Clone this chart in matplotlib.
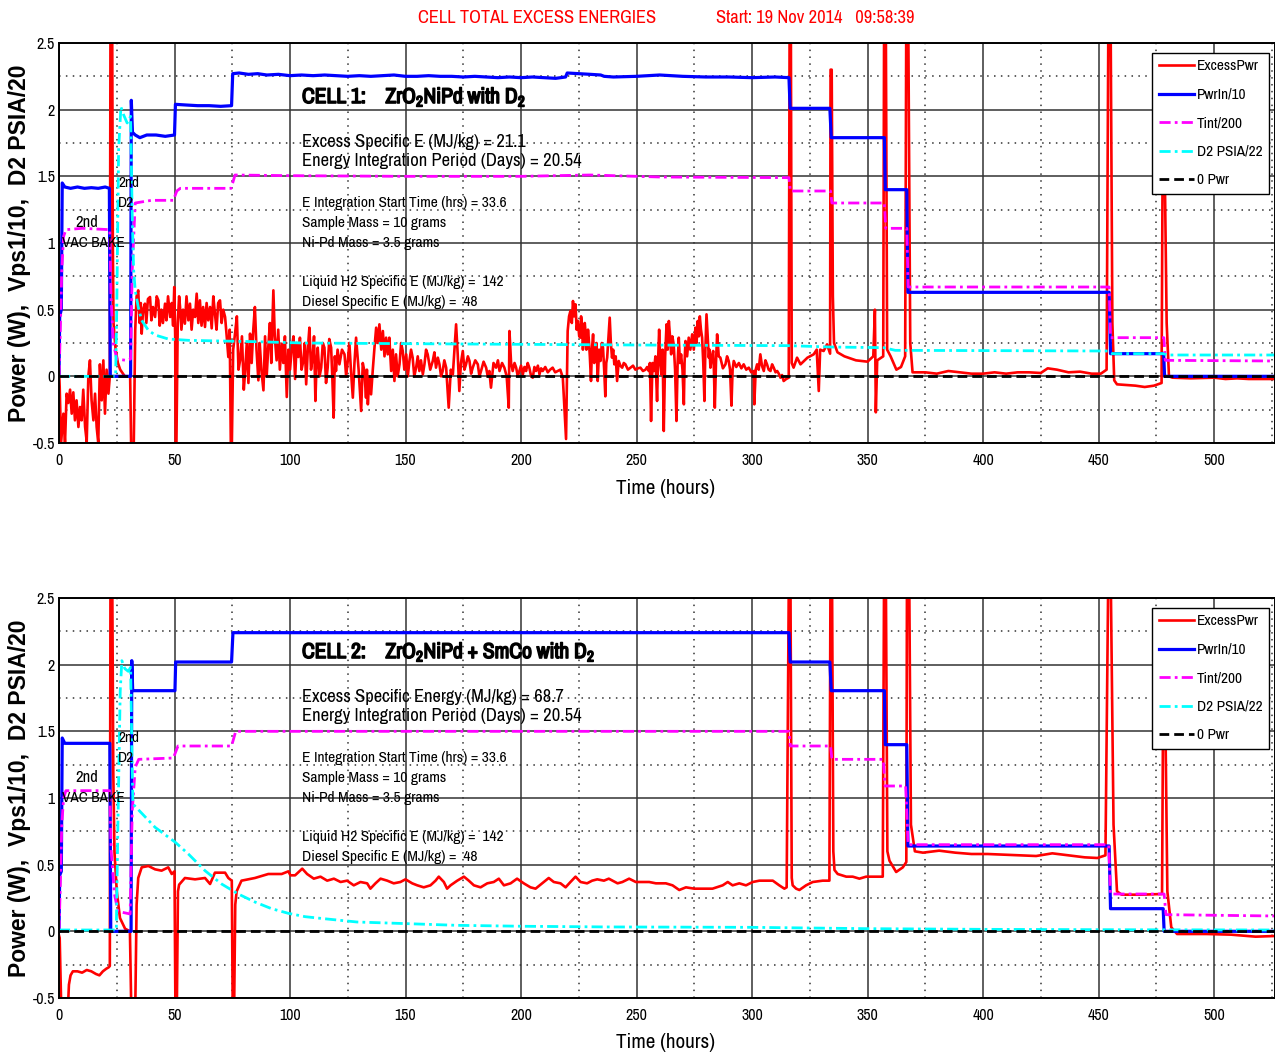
import matplotlib
matplotlib.use("Agg")
import matplotlib.pyplot as plt
import matplotlib.patheffects as pe
from matplotlib.ticker import MultipleLocator

NARROW = ['Archivo Narrow', 'Liberation Sans Narrow', 'DejaVu Sans']
plt.rcParams['font.family'] = NARROW
plt.rcParams['mathtext.fontset'] = 'custom'
plt.rcParams['mathtext.rm'] = 'Archivo Narrow'
plt.rcParams['mathtext.bf'] = 'Archivo Narrow:bold'
plt.rcParams['mathtext.it'] = 'Archivo Narrow:italic'

# ---------------- data (hours, value) ----------------
# CELL 1
c1_excess = [
    (0.0, 0.05), (0.3, -0.08), (0.9, -0.5), (1.9, -0.28), (2.6, -0.5), (3.3, -0.13),
    (4.0, -0.2), (4.8, -0.1), (5.5, -0.28), (6.2, -0.12), (6.9, -0.33), (7.6, -0.18),
    (8.4, -0.38), (9.1, -0.23), (9.8, -0.33), (10.5, -0.1), (11.3, -0.38), (12.0, -0.49),
    (12.7, 0.0), (13.4, 0.12), (14.1, -0.18), (14.9, -0.33), (15.6, -0.13), (16.3, -0.38),
    (17.0, -0.5), (17.7, 0.09), (18.5, -0.18), (19.2, 0.12), (19.9, -0.28), (20.6, 0.05),
    (21.4, -0.13), (22.0, 0.0), (22.3, 2.8), (23.0, 2.8), (23.3, 1.0), (23.6, 0.4),
    (24.5, 0.2), (25.5, 0.1), (26.5, 0.05), (28.5, 0.0), (30.8, 0.0), (31.3, -0.6),
    (32.3, -0.6), (33.0, 0.35), (33.6, 0.6), (34.3, 0.645), (34.9, 0.4), (35.4, 0.55),
    (35.8, 0.32), (36.4, 0.5), (37.2, 0.545), (37.8, 0.4), (38.5, 0.58), (39.4, 0.595),
    (40.0, 0.42), (40.7, 0.52), (41.6, 0.445), (42.3, 0.6), (43.0, 0.57), (43.6, 0.38),
    (44.3, 0.5), (45.0, 0.4), (45.9, 0.545), (46.5, 0.42), (47.2, 0.6), (48.1, 0.445),
    (48.8, 0.55), (49.4, 0.38), (49.9, 0.67), (50.3, 0.3), (50.5, -0.55), (50.8, -0.55),
    (51.4, 0.4), (52.0, 0.6), (52.4, 0.52), (53.0, 0.35), (53.7, 0.5), (54.5, 0.395),
    (55.2, 0.6), (56.0, 0.42), (56.7, 0.545), (57.4, 0.35), (58.1, 0.5), (58.9, 0.445),
    (59.6, 0.62), (60.3, 0.4), (61.0, 0.57), (61.7, 0.38), (62.4, 0.52), (63.2, 0.37),
    (63.9, 0.55), (64.6, 0.42), (65.4, 0.52), (66.1, 0.36), (66.8, 0.6), (67.5, 0.47),
    (68.2, 0.35), (68.9, 0.55), (69.7, 0.57), (70.4, 0.4), (71.1, 0.5), (71.9, 0.445),
    (72.6, 0.3), (73.3, 0.145), (73.9, 0.35), (74.4, -0.55), (74.8, -0.55), (75.4, 0.2),
    (76.2, 0.32), (77.0, 0.45), (77.7, 0.05), (78.4, 0.12), (79.2, 0.3), (80.0, -0.1),
    (80.5, 0.02), (81.3, 0.25), (82.0, -0.05), (82.7, 0.32), (83.4, 0.1), (84.1, 0.35),
    (84.8, 0.52), (85.5, 0.2), (86.3, -0.03), (86.9, 0.25), (87.6, 0.05), (88.5, -0.105),
    (89.2, 0.3), (89.9, 0.0), (90.6, 0.22), (91.3, 0.4), (91.9, 0.1), (92.8, 0.645),
    (93.4, 0.3), (94.2, 0.12), (94.9, 0.35), (95.6, 0.05), (96.4, 0.245), (97.1, 0.1),
    (97.8, 0.3), (98.6, -0.155), (99.3, 0.2), (100.0, 0.05), (100.7, 0.195), (101.5, 0.3),
    (102.2, -0.02), (102.9, 0.25), (103.6, 0.145), (104.3, 0.29), (105.0, 0.05), (105.8, 0.12),
    (106.4, 0.25), (107.0, -0.06), (107.7, 0.2), (108.4, 0.365), (109.1, 0.05), (109.8, 0.14),
    (110.4, 0.3), (111.0, -0.185), (111.5, 0.1), (112.0, 0.215), (112.8, 0.0), (113.5, 0.065),
    (114.2, 0.25), (114.9, 0.215), (115.6, -0.05), (116.3, 0.065), (117.0, 0.28), (117.8, 0.215),
    (118.3, 0.0), (118.9, -0.31), (119.4, 0.15), (119.9, 0.04), (120.6, 0.2), (121.4, 0.09),
    (122.5, 0.2), (123.6, 0.165), (124.3, 0.0), (125.0, 0.115), (125.7, 0.25), (126.4, 0.04),
    (127.2, -0.16), (127.9, 0.1), (128.6, 0.29), (129.7, 0.05), (130.8, -0.26), (131.5, 0.1),
    (132.2, 0.04), (132.9, -0.16), (133.3, 0.05), (133.7, -0.21), (134.4, 0.0), (135.1, -0.135),
    (135.8, 0.04), (136.5, 0.2), (137.3, 0.365), (138.0, 0.25), (138.7, 0.39), (139.5, 0.2),
    (140.2, 0.34), (140.9, 0.15), (141.6, 0.29), (142.3, 0.165), (143.0, 0.29), (143.8, 0.04),
    (144.5, 0.2), (145.2, -0.035), (145.9, 0.165), (146.6, 0.0), (147.4, 0.09), (148.1, 0.25),
    (148.8, 0.19), (149.5, 0.05), (150.3, 0.165), (151.0, 0.0), (151.7, 0.115), (152.4, 0.2),
    (153.1, 0.14), (153.8, 0.0), (154.6, 0.065), (155.3, 0.15), (156.0, 0.04), (156.7, 0.12),
    (157.5, 0.015), (158.2, 0.09), (158.9, 0.2), (159.6, 0.165), (160.7, 0.05), (161.8, 0.115),
    (162.5, 0.18), (163.2, 0.065), (164.0, 0.14), (164.7, 0.09), (165.4, 0.0), (166.1, 0.04),
    (166.8, 0.12), (167.6, 0.065), (168.7, -0.235), (169.6, 0.05), (170.5, 0.015), (171.2, 0.2),
    (171.9, 0.39), (172.6, 0.165), (173.3, -0.11), (174.0, 0.1), (174.8, 0.19), (175.5, 0.05),
    (176.2, 0.09), (177.0, 0.15), (177.7, 0.115), (178.4, 0.02), (179.1, 0.065), (180.2, 0.12),
    (181.3, 0.09), (182.0, 0.0), (182.7, 0.04), (183.8, 0.11), (184.9, 0.065), (185.6, 0.0),
    (186.3, 0.04), (187.0, -0.085), (188.1, 0.1), (189.2, 0.065), (190.0, 0.12), (190.7, 0.04),
    (191.8, 0.1), (192.8, 0.065), (193.8, 0.0), (194.7, -0.235), (195.0, 0.34), (195.7, 0.1),
    (196.4, 0.04), (197.2, 0.1), (197.9, 0.065), (198.6, 0.0), (199.3, 0.04), (200.0, 0.08),
    (200.8, 0.015), (201.5, 0.07), (202.2, 0.04), (202.9, 0.1), (203.6, 0.065), (204.4, 0.0),
    (205.1, -0.01), (205.8, 0.07), (206.5, 0.04), (207.3, 0.08), (208.0, 0.015), (208.7, 0.06),
    (209.4, 0.04), (210.5, 0.07), (211.6, 0.03), (212.6, 0.05), (213.7, 0.065), (214.8, 0.03),
    (215.9, 0.04), (217.0, 0.05), (218.1, -0.01), (219.5, -0.47), (220.2, 0.34), (220.8, 0.45),
    (221.4, 0.49), (222.0, 0.4), (222.5, 0.565), (223.0, 0.45), (223.6, 0.54), (224.1, 0.35),
    (224.6, 0.415), (225.2, 0.3), (225.7, 0.29), (226.0, 0.45), (226.4, 0.39), (226.8, 0.2),
    (227.2, 0.29), (227.6, 0.4), (227.9, 0.34), (228.3, 0.2), (228.6, 0.215), (229.0, 0.35),
    (229.3, 0.29), (229.8, 0.15), (230.3, -0.035), (230.7, 0.2), (231.2, 0.315), (231.7, 0.1),
    (232.2, 0.165), (232.7, 0.25), (233.2, -0.035), (233.8, 0.2), (234.4, 0.115), (235.0, 0.25),
    (235.5, 0.215), (236.0, 0.05), (236.5, -0.15), (236.9, 0.1), (237.3, 0.14), (237.9, 0.3),
    (238.4, 0.44), (238.9, 0.25), (239.4, 0.14), (239.9, 0.2), (240.4, 0.09), (241.0, 0.15),
    (241.6, -0.035), (242.3, 0.115), (243.0, 0.08), (243.8, 0.065), (244.5, 0.1), (245.2, 0.09),
    (246.3, 0.05), (247.4, 0.065), (248.5, 0.08), (249.5, 0.05), (250.6, 0.06), (251.7, 0.065),
    (252.8, 0.04), (253.9, 0.05), (254.6, 0.07), (255.3, 0.04), (255.8, 0.1), (256.3, -0.335),
    (256.9, 0.1), (257.5, 0.04), (258.2, 0.15), (258.9, -0.185), (259.3, 0.1), (259.8, 0.35),
    (260.3, 0.1), (260.8, 0.015), (261.3, 0.2), (261.8, -0.41), (262.4, 0.15), (263.0, 0.39),
    (263.5, 0.2), (264.0, 0.415), (264.5, 0.3), (265.0, 0.165), (265.5, 0.3), (266.1, 0.24),
    (266.7, 0.05), (267.3, -0.335), (267.8, 0.1), (268.3, 0.29), (268.8, 0.1), (269.3, 0.165),
    (269.9, 0.05), (270.5, -0.21), (270.8, 0.1), (271.2, 0.265), (271.9, 0.15), (272.6, 0.29),
    (273.3, 0.2), (274.1, 0.315), (274.8, 0.2), (275.5, 0.365), (276.0, 0.25), (276.5, 0.415),
    (277.0, 0.3), (277.4, 0.45), (277.9, 0.35), (278.4, 0.29), (278.9, 0.1), (279.4, -0.185),
    (279.8, 0.2), (280.3, 0.465), (280.8, 0.3), (281.3, 0.14), (281.6, 0.2), (282.0, 0.065),
    (282.6, 0.15), (283.2, 0.19), (283.5, 0.05), (283.9, -0.235), (284.4, 0.1), (284.9, 0.315),
    (285.6, 0.15), (286.3, 0.14), (287.4, 0.06), (288.5, 0.09), (289.2, 0.15), (289.9, 0.115),
    (290.5, 0.05), (291.1, -0.22), (291.6, 0.05), (292.1, 0.115), (293.2, 0.07), (294.3, 0.1),
    (295.4, 0.06), (296.4, 0.09), (297.5, 0.05), (298.6, 0.065), (299.7, 0.03), (300.8, 0.04),
    (301.0, -0.21), (301.6, 0.05), (302.2, 0.09), (302.9, 0.05), (303.6, 0.165), (304.3, 0.08),
    (305.1, 0.04), (305.8, 0.12), (306.5, 0.09), (307.2, 0.05), (308.0, 0.04), (308.7, 0.09),
    (309.4, 0.065), (310.2, 0.03), (310.9, 0.04), (311.6, 0.02), (312.3, -0.01), (313.0, 0.01),
    (313.7, -0.035), (314.8, -0.02), (315.9, -0.01), (316.3, 2.8), (316.8, 2.8),
    (317.2, 0.1), (318.0, 0.065), (319.5, 0.14), (321.0, 0.09), (324.0, 0.14), (326.7, 0.165),
    (328.0, 0.2), (328.9, -0.11), (329.5, 0.2), (331.0, 0.19), (332.5, 0.24), (333.8, 0.17),
    (334.0, 2.3), (334.5, 2.3), (335.0, 0.6), (335.5, 0.25), (337.0, 0.18), (340.0, 0.15),
    (345.0, 0.12), (350.0, 0.11), (352.5, 0.15), (353.2, 0.5), (353.6, -0.27), (354.2, 0.12),
    (356.8, 0.15), (357.2, 2.8), (357.9, 2.8), (358.5, 0.2), (360.0, 0.15), (362.5, 0.05),
    (364.5, 0.07), (366.3, 0.15), (366.8, 2.8), (367.6, 2.8), (368.5, 0.25), (369.5, 0.03),
    (375.0, 0.03), (380.0, 0.02), (385.0, 0.04), (390.0, 0.03), (395.0, 0.02), (400.0, 0.02),
    (405.0, 0.03), (410.0, 0.02), (415.0, 0.03), (420.0, 0.03), (425.0, 0.025), (428.0, 0.06),
    (432.0, 0.05), (437.0, 0.03), (442.0, 0.035), (447.0, 0.02), (451.0, 0.02), (453.5, 0.05),
    (454.3, 2.8), (455.2, 2.8), (456.0, 0.4), (456.8, -0.03), (458.0, -0.06), (462.0, -0.065),
    (466.0, -0.07), (470.0, -0.08), (474.0, -0.07), (477.3, -0.05), (477.8, 1.8), (478.5, 1.8),
    (479.5, 0.4), (480.5, 0.0), (482.0, -0.01), (490.0, -0.015), (500.0, -0.01), (505.0, -0.02),
    (510.0, -0.015), (515.0, -0.02), (520.0, -0.02), (526.5, -0.02),
]

c1_pwrin = [
    (0.0, 0.0), (0.3, 0.45), (1.0, 0.5), (1.4, 1.45), (2.5, 1.42), (5, 1.41), (8, 1.42),
    (11, 1.41), (14, 1.415), (17, 1.41), (20, 1.42), (21.8, 1.41), (22.2, 0.0), (31.0, 0.0),
    (31.3, 2.07), (31.8, 1.83), (33, 1.81), (35, 1.79), (38, 1.81), (42, 1.81), (46, 1.8),
    (50.0, 1.81), (50.4, 2.04), (55, 2.035), (60, 2.03), (65, 2.03), (70, 2.025), (74.7, 2.03),
    (75.2, 2.27), (78, 2.275), (82, 2.265), (86, 2.27), (90, 2.26), (95, 2.265), (100, 2.255),
    (105, 2.26), (110, 2.255), (115, 2.26), (120, 2.255), (125, 2.25), (130, 2.255), (135, 2.25),
    (140, 2.255), (145, 2.26), (150, 2.25), (155, 2.25), (160, 2.255), (165, 2.25), (170, 2.25),
    (175, 2.245), (180, 2.25), (185, 2.245), (190, 2.24), (195, 2.245), (200, 2.24), (205, 2.245),
    (210, 2.24), (215, 2.235), (219.3, 2.245), (220, 2.275), (225, 2.27), (230, 2.265),
    (234.5, 2.26), (236, 2.25), (240, 2.245), (250, 2.25), (255, 2.255), (260, 2.26),
    (265, 2.255), (270, 2.25), (280, 2.245), (290, 2.245), (300, 2.24), (310, 2.245),
    (316.0, 2.24), (316.5, 2.01), (325, 2.01), (333.7, 2.01), (334.3, 1.79), (345, 1.79),
    (357.3, 1.79), (357.7, 1.40), (367.0, 1.40), (367.5, 0.63), (454.6, 0.63), (455.2, 0.17),
    (478.2, 0.17), (478.6, 0.0), (526.5, 0.0),
]

c1_tint = [
    (0, 0.0), (0.5, 0.3), (1.2, 0.8), (2.0, 1.05), (3.0, 1.1), (10, 1.11), (22.0, 1.1),
    (22.5, 0.6), (23.5, 0.25), (25, 0.13), (29, 0.12), (31.0, 0.13), (31.7, 0.8), (33, 1.3),
    (40, 1.32), (49.5, 1.32), (51, 1.39), (52.5, 1.41), (74.5, 1.41), (76.2, 1.51),
    (100, 1.505), (150, 1.5), (200, 1.5), (230, 1.51), (260, 1.495), (316, 1.49),
    (316.6, 1.39), (334, 1.39), (334.6, 1.30), (357.3, 1.30), (357.9, 1.11), (367.0, 1.11),
    (367.6, 0.67), (454.6, 0.67), (455.2, 0.29), (478.3, 0.29), (478.9, 0.12), (526.5, 0.115),
]

c1_d2 = [
    (0, 0.0), (24.5, 0.0), (25.0, 0.5), (25.8, 1.7), (26.8, 2.02), (28.0, 1.96), (29.5, 1.9),
    (31.0, 1.95), (31.7, 1.2), (32.3, 0.8), (33.0, 0.645), (34.3, 0.52), (35.8, 0.42),
    (38.7, 0.345), (41.6, 0.31), (47.3, 0.28), (56, 0.27), (70, 0.265), (85, 0.26),
    (106, 0.25), (150, 0.245), (200, 0.24), (250, 0.235), (316, 0.23), (334, 0.22),
    (357, 0.215), (362, 0.195), (454, 0.19), (456, 0.17), (478, 0.17), (480, 0.16), (526.5, 0.16),
]

# CELL 2
c2_excess = [
    (0.0, -0.03), (0.3, -0.05), (1.0, -0.6), (3.8, -0.6), (4.3, -0.4), (5.0, -0.33),
    (6.0, -0.3), (8.0, -0.3), (10.0, -0.31), (12.0, -0.29), (14.0, -0.3), (16.0, -0.32),
    (17.5, -0.33), (19.0, -0.3), (20.5, -0.28), (21.5, -0.27), (22.0, -0.26), (22.3, 2.8),
    (23.0, 2.8), (23.5, 1.2), (24.0, 0.6), (25.0, 0.3), (26.4, 0.1), (28.6, 0.02), (30.7, 0.0),
    (31.3, -0.6), (33.0, -0.6), (33.6, 0.2), (34.3, 0.4), (35.8, 0.48), (38.7, 0.49),
    (41.6, 0.465), (44.4, 0.455), (47.3, 0.48), (48.8, 0.43), (50.0, 0.45), (50.4, -0.6),
    (51.0, -0.6), (51.5, 0.3), (52.0, 0.35), (54.5, 0.4), (58.9, 0.39), (63.2, 0.4),
    (65.4, 0.355), (67.5, 0.44), (71.9, 0.44), (73.3, 0.4), (74.8, 0.38), (75.2, -0.6),
    (75.8, -0.6), (76.3, 0.2), (76.9, 0.3), (79.0, 0.38), (84.8, 0.4), (90.6, 0.43),
    (96.4, 0.43), (99.3, 0.45), (100.2, 0.42), (102.2, 0.42), (105.3, 0.47), (107.4, 0.43),
    (110.3, 0.395), (113.2, 0.41), (116.1, 0.38), (119.0, 0.395), (121.9, 0.37), (124.7, 0.38),
    (127.6, 0.345), (130.5, 0.37), (133.4, 0.36), (134.8, 0.32), (137.0, 0.36), (139.2, 0.395),
    (142.1, 0.38), (144.9, 0.36), (147.8, 0.37), (150.0, 0.39), (152.9, 0.36), (155.1, 0.345),
    (157.9, 0.33), (160.8, 0.345), (163.0, 0.38), (164.4, 0.41), (166.6, 0.37), (168.0, 0.32),
    (169.5, 0.345), (172.4, 0.38), (175.3, 0.41), (177.4, 0.38), (179.6, 0.345), (182.5, 0.33),
    (185.4, 0.36), (188.2, 0.37), (190.4, 0.395), (192.6, 0.345), (195.5, 0.36), (198.3, 0.395),
    (201.2, 0.36), (204.1, 0.33), (206.3, 0.32), (209.9, 0.37), (212.0, 0.4), (214.2, 0.37),
    (217.1, 0.36), (219.3, 0.33), (221.4, 0.37), (223.6, 0.41), (225.8, 0.37), (228.6, 0.36),
    (230.8, 0.38), (233.0, 0.39), (235.9, 0.38), (238.0, 0.395), (241.8, 0.36), (243.9, 0.37),
    (246.8, 0.395), (249.7, 0.37), (252.6, 0.37), (255.5, 0.37), (258.4, 0.36), (262.7, 0.36),
    (265.6, 0.345), (268.5, 0.31), (271.4, 0.33), (275.0, 0.32), (278.6, 0.32), (282.9, 0.32),
    (287.3, 0.345), (289.5, 0.37), (291.6, 0.345), (294.5, 0.36), (297.4, 0.345), (300.3, 0.37),
    (303.2, 0.38), (306.1, 0.38), (309.0, 0.38), (311.8, 0.345), (314.0, 0.32), (315.0, 0.33),
    (316.0, 2.8), (316.6, 2.8), (317.2, 0.4), (317.6, 0.345), (319.1, 0.32), (320.5, 0.31),
    (323.4, 0.345), (326.3, 0.37), (330.6, 0.38), (333.5, 0.38), (334.0, 2.8), (334.6, 2.8),
    (335.2, 0.6), (335.7, 0.46), (337.1, 0.43), (340.8, 0.41), (343.6, 0.41), (346.5, 0.395),
    (349.4, 0.41), (353.8, 0.41), (356.6, 0.41), (357.2, 2.8), (357.9, 2.8), (358.6, 0.6),
    (359.5, 0.53), (362.4, 0.445), (365.3, 0.48), (366.8, 0.52), (367.1, 2.8), (368.0, 2.8),
    (368.8, 0.8), (370.5, 0.6), (374.0, 0.59), (381.0, 0.605), (388.0, 0.59), (395.0, 0.58),
    (402.0, 0.58), (409.0, 0.575), (416.0, 0.57), (423.0, 0.565), (430.0, 0.585), (437.0, 0.57),
    (444.0, 0.555), (449.5, 0.55), (453.0, 0.57), (454.3, 2.8), (455.2, 2.8), (456.5, 0.8),
    (458.0, 0.3), (460.0, 0.275), (468.8, 0.275), (477.5, 0.28), (478.0, 1.8), (478.8, 1.8),
    (479.8, 0.3), (481.5, 0.03), (484.0, -0.02), (496.8, -0.02), (507.4, -0.025),
    (518.0, -0.04), (526.5, -0.035),
]

c2_pwrin = [
    (0, 0.0), (0.3, 0.42), (1.0, 0.45), (1.4, 1.45), (2.5, 1.41), (22.0, 1.41), (22.4, 0.0),
    (31.2, 0.0), (31.5, 2.03), (31.9, 1.805), (50.2, 1.805), (50.5, 2.02), (74.7, 2.02),
    (75.3, 2.24), (316.0, 2.24), (316.5, 2.02), (333.7, 2.02), (334.3, 1.805), (357.3, 1.805),
    (357.7, 1.40), (367.0, 1.40), (367.5, 0.64), (454.6, 0.64), (455.2, 0.17), (478.0, 0.17),
    (478.4, 0.0), (526.5, 0.0),
]

c2_tint = [
    (0, 0.0), (0.5, 0.3), (1.2, 0.8), (2.0, 1.0), (3.0, 1.055), (22.0, 1.055), (22.6, 0.6),
    (24.0, 0.28), (25.5, 0.15), (30.8, 0.13), (31.7, 0.9), (33, 1.23), (34.5, 1.29),
    (49.5, 1.3), (51.5, 1.39), (74.7, 1.39), (76.5, 1.5), (316, 1.5), (316.6, 1.39),
    (334, 1.39), (334.6, 1.29), (356.8, 1.29), (357.6, 1.09), (366.5, 1.09), (367.6, 0.65),
    (454.4, 0.65), (455.2, 0.28), (478.4, 0.28), (479.2, 0.125), (526.5, 0.115),
]

c2_d2 = [
    (0, 0.01), (24.8, 0.01), (25.5, 0.8), (26.5, 1.8), (27.2, 2.03), (28.5, 1.97), (30, 1.95),
    (31.0, 1.98), (31.6, 1.3), (32.0, 0.955), (41.6, 0.78), (50.2, 0.67), (56, 0.58),
    (63.2, 0.455), (70.4, 0.355), (77.6, 0.28), (84.8, 0.22), (92, 0.17), (99.3, 0.135),
    (106.5, 0.11), (114.6, 0.095), (129, 0.07), (150, 0.058), (172.4, 0.045), (201, 0.038),
    (237, 0.033), (300, 0.03), (350, 0.02), (400, 0.015), (460, 0.012), (526.5, 0.01),
]

c1_notes = ['Excess Specific E (MJ/kg) = 21.1', 'Energy Integration Period (Days) = 20.54']
c2_notes = ['Excess Specific Energy (MJ/kg) = 68.7', 'Energy Integration Period (Days) = 20.54']
c1_title = r'CELL 1:    ZrO$_\mathbf{2}$NiPd with D$_\mathbf{2}$'
c2_title = r'CELL 2:    ZrO$_\mathbf{2}$NiPd + SmCo with D$_\mathbf{2}$'
common_notes = ['E Integration Start Time (hrs) = 33.6', 'Sample Mass = 10 grams',
                'Ni-Pd Mass = 3.5 grams', 'Liquid H2 Specific E (MJ/kg) =  142',
                'Diesel Specific E (MJ/kg) =  48']

W, H = 1275, 1057
XMAX = 526.4
fig = plt.figure(figsize=(W / 100, H / 100), dpi=100)
bold_fx = [pe.withStroke(linewidth=1.1, foreground='black')]


def draw_cell(top_px, excess, pwrin, tint, d2, title, notes):
    ax = fig.add_axes([59 / W, 1 - (top_px + 400) / H, 1216 / W, 400 / H])
    series = [
        (excess, 'red', '-', 1.9, 'ExcessPwr'),
        (pwrin, 'blue', '-', 2.3, 'PwrIn/10'),
        (tint, 'magenta', (0, (4, 1.5, 1, 1.5)), 2.0, 'Tint/200'),
        (d2, 'cyan', (0, (4, 1.5, 1, 1.5)), 2.0, 'D2 PSIA/22'),
    ]
    for data, color, ls, lw, label in series:
        t, y = zip(*data)
        ax.plot(t, y, color=color, ls=ls, lw=lw, label=label)
    ax.axhline(0, color='black', ls=(0, (3.5, 1.8)), lw=2, label='0 Pwr')

    ax.set_xlim(0, XMAX)
    ax.set_ylim(-0.5, 2.5)
    ax.xaxis.set_major_locator(MultipleLocator(50))
    ax.xaxis.set_minor_locator(MultipleLocator(25))
    ax.yaxis.set_minor_locator(MultipleLocator(0.25))
    ax.set_yticks([-0.5, 0, 0.5, 1, 1.5, 2, 2.5])
    ax.set_yticklabels(['-0.5', '0', '0.5', '1', '1.5', '2', '2.5'])
    ax.grid(which='major', color='0.2', ls='-', lw=1.1)
    ax.grid(which='minor', color='0.2', ls=(0, (1, 3.5)), lw=1.1)
    ax.set_axisbelow(True)
    ax.tick_params(which='both', length=0, labelsize=11.5)
    ax.tick_params(axis='x', pad=7)
    ax.tick_params(axis='y', pad=3)
    for sp in ax.spines.values():
        sp.set_linewidth(1.4)

    ax.text(105.2, 2.095, title, fontsize=15.5, fontweight='bold', va='center',
            path_effects=bold_fx)
    ax.text(105.2, 1.755, notes[0], fontsize=13.3, va='center')
    ax.text(105.2, 1.615, notes[1], fontsize=13.4, va='center')
    for yv, s in zip([1.30, 1.15, 1.0, 0.707, 0.557], common_notes):
        ax.text(105.2, yv, s, fontsize=11.2, va='center')
    ax.text(12.1, 1.157, '2nd', fontsize=12, ha='center', va='center')
    ax.text(1.3, 1.0, 'VAC BAKE', fontsize=11, va='center')
    ax.text(25.5, 1.45, '2nd', fontsize=11, va='center')
    ax.text(25.5, 1.30, 'D2', fontsize=11, va='center')

    leg = ax.legend(loc='upper right', bbox_to_anchor=(1 - 6 / 1216, 1 - 10 / 400),
                    borderaxespad=0, fancybox=False, framealpha=1, edgecolor='black',
                    fontsize=11, handlelength=2.3, handletextpad=0.2,
                    labelspacing=0.95, borderpad=0.42)
    leg.get_frame().set_linewidth(1.0)

    # axis labels drawn as figure text
    fig.text(20 / W, 1 - (top_px + 200) / H, 'Power (W),  Vps1/10,  D2 PSIA/20',
             rotation=90, ha='center', va='center', fontsize=16.5, fontweight='bold',
             family=['Liberation Sans', 'DejaVu Sans'])
    fig.text(665 / W, 1 - (top_px + 445) / H, 'Time (hours)', fontsize=15.2,
             ha='center', va='center')
    return ax


draw_cell(43, c1_excess, c1_pwrin, c1_tint, c1_d2, c1_title, c1_notes)
draw_cell(598, c2_excess, c2_pwrin, c2_tint, c2_d2, c2_title, c2_notes)

fig.text(418 / W, 1 - 18 / H, 'CELL TOTAL EXCESS ENERGIES', color='red',
         fontsize=13.3, ha='left', va='center')
fig.text(716 / W, 1 - 18 / H, 'Start: 19 Nov 2014   09:58:39', color='red',
         fontsize=13.3, ha='left', va='center')

fig.savefig('out.png', dpi=100)
